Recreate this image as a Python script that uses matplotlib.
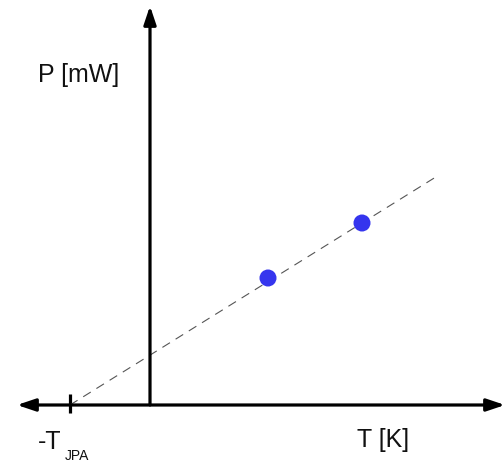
import numpy as np
import matplotlib.pyplot as plt

plt.rcParams['font.family'] = ['Liberation Sans', 'DejaVu Sans']

# данные (условные единицы)
t_jpa = 0.8
t_points = [1.18, 2.12]
p_points = [1.27, 1.82]
t_line_end = 2.85

fig = plt.figure(figsize=(5.03, 4.63), dpi=100)
ax = fig.add_axes([0, 0, 1, 1])
ax.set_xlim(-1.5, 3.53)
ax.set_ylim(-0.58, 4.05)
ax.axis('off')

# оси со стрелками
ax.annotate('', xy=(-1.33, 0), xytext=(3.55, 0),
            arrowprops=dict(arrowstyle='<|-|>,head_length=1.1,head_width=0.37',
                            mutation_scale=10, lw=2.3, color='black',
                            shrinkA=0, shrinkB=0))
ax.annotate('', xy=(0, 3.99), xytext=(0, 0),
            arrowprops=dict(arrowstyle='-|>,head_length=1.1,head_width=0.37',
                            mutation_scale=10, lw=2.3, color='black',
                            shrinkA=0, shrinkB=0))

# метка -T_JPA
ax.plot([-t_jpa, -t_jpa], [-0.08, 0.11], color='black', lw=2.3, solid_capstyle='butt')

# пунктирная прямая через -T_JPA
slope = p_points[-1] / (t_points[-1] + t_jpa)
t_line = np.array([-t_jpa, t_line_end])
ax.plot(t_line, slope * (t_line + t_jpa), color='#555555', lw=0.8, dashes=(8, 6))

ax.scatter(t_points, p_points, s=150, color='#3535ee', zorder=3, edgecolors='none')

ax.text(-1.12, 3.3, 'P [mW]', fontsize=18, va='center', ha='left', color='#111111')
ax.text(2.07, -0.35, 'T [K]', fontsize=18, va='center', ha='left', color='#111111')
ax.text(-1.12, -0.37, '-T', fontsize=18, va='center', ha='left', color='#111111')
ax.text(-0.85, -0.505, 'JPA', fontsize=10, va='center', ha='left', color='#111111')

plt.savefig('out.png', dpi=100)
